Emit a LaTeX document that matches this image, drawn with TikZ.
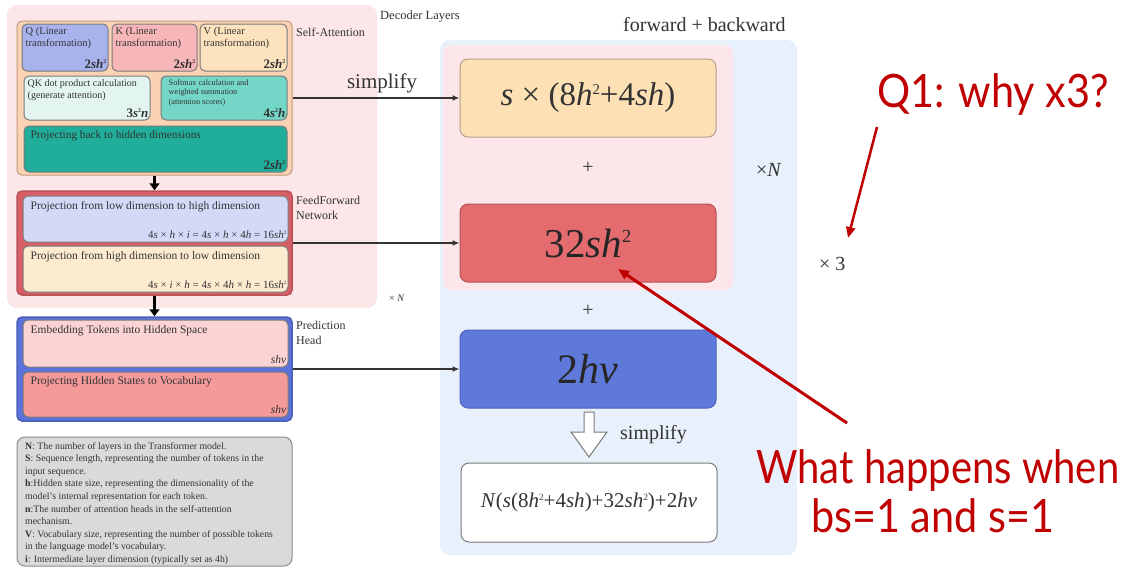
\documentclass[tikz,border=0pt]{standalone}
\usepackage{fontspec}
\usepackage{graphicx}
\setmainfont{Liberation Serif}
\newfontfamily\annot[FakeStretch=0.9]{Lato}
\newfontfamily\annotn[FakeStretch=0.87]{Lato}
\newcommand\sq{\raisebox{0.36em}{\scalebox{0.45}{2}}}
\usetikzlibrary{arrows.meta,calc}
\definecolor{txt}{HTML}{333333}
\definecolor{decpink}{HTML}{FCE6E7}
\definecolor{safill}{HTML}{FAD3B4}
\definecolor{sadraw}{HTML}{C59A7A}
\definecolor{qfill}{HTML}{A8B3EE}
\definecolor{kfill}{HTML}{F7B7B8}
\definecolor{vfill}{HTML}{FDE2BE}
\definecolor{qkfill}{HTML}{E2F5F1}
\definecolor{smfill}{HTML}{73D6C6}
\definecolor{pjfill}{HTML}{20AE9B}
\definecolor{ffnfill}{HTML}{D95F67}
\definecolor{lavfill}{HTML}{D3DAF8}
\definecolor{creamfill}{HTML}{FDEBD0}
\definecolor{phfill}{HTML}{5A72D9}
\definecolor{pkfill}{HTML}{FBD3D3}
\definecolor{rdfill}{HTML}{F59A9B}
\definecolor{lgfill}{HTML}{DADADA}
\definecolor{lgdraw}{HTML}{8C8C8C}
\definecolor{rblue}{HTML}{E8F0FB}
\definecolor{rpink}{HTML}{FCE6E9}
\definecolor{bonefill}{HTML}{FDE1B5}
\definecolor{bonedraw}{HTML}{B3A088}
\definecolor{btwofill}{HTML}{E46B6E}
\definecolor{btwodraw}{HTML}{B35458}
\definecolor{bthreefill}{HTML}{5F79DA}
\definecolor{bthreedraw}{HTML}{4D63BE}
\definecolor{annred}{HTML}{C00000}
\definecolor{boxgrey}{HTML}{7A7A7A}
\begin{document}
\begin{tikzpicture}[x=1pt,y=-1pt,
  every node/.style={text=txt},
  cbox/.style args={#1/#2}{fill=#1, draw=#2, rounded corners=5pt, line width=1pt, inner sep=0pt},
  lbl/.style={anchor=north west, align=left, inner sep=0pt},
  frm/.style={anchor=south east, inner sep=0pt},
  side/.style={anchor=north west, align=left, inner sep=0pt, font=\fontsize{12}{15}\selectfont},
  conn/.style={draw=txt, line width=1.6pt, -{Latex[length=7pt,width=6pt]}},
  down/.style={draw=black, line width=2.6pt, -{Triangle[length=7pt,width=10pt]}},
  redarr/.style={draw=annred, line width=3pt, -{Triangle[length=11pt,width=9pt]}},
  big/.style={font=\fontsize{#1}{#1}\selectfont}
]
\useasboundingbox (0,0) rectangle (1121,571);
\fill[white] (0,0) rectangle (1121,571);

% ---------- left: decoder layers ----------
\node[fill=decpink, rounded corners=10pt, minimum width=370pt, minimum height=303pt, inner sep=0pt] (dec) at (192,156.5) {};
\node[anchor=west, inner sep=0pt, font=\fontsize{12.5}{12}\selectfont] (declbl) at (380,17) {Decoder Layers};

\node[cbox=safill/sadraw, minimum width=275pt, minimum height=154pt] (sa) at (154.5,98) {};
\node[anchor=west, inner sep=0pt, font=\fontsize{12}{12}\selectfont] (salbl) at (296,32) {Self-Attention};

\node[cbox=qfill/boxgrey, minimum width=86pt, minimum height=47pt] (q) at (65,47.5) {};
\node[cbox=kfill/boxgrey, minimum width=85pt, minimum height=47pt] (k) at (154.5,47.5) {};
\node[cbox=vfill/boxgrey, minimum width=87pt, minimum height=47pt] (v) at (243.5,47.5) {};
\foreach \b/\l in {q/Q, k/K, v/V}{
  \node[lbl, font=\fontsize{10.5}{11.5}\selectfont] (\b t) at ($(\b.north west)+(4,4)$) {\l\ (Linear\\transformation)};
  \node[frm, font=\fontsize{13}{13}\selectfont\bfseries] (\b f) at ($(\b.south east)+(-2,-3)$) {2\textit{sh}\sq};
}

\node[cbox=qkfill/boxgrey, minimum width=126pt, minimum height=44pt] (qk) at (87,98) {};
\node[lbl, font=\fontsize{10}{12}\selectfont] (qkt) at ($(qk.north west)+(4,4)$) {QK dot product calculation\\(generate attention)};
\node[frm, font=\fontsize{13}{13}\selectfont\bfseries] (qkf) at ($(qk.south east)+(-2,-3)$) {3\textit{s}\sq\textit{n}};

\node[cbox=smfill/boxgrey, minimum width=126pt, minimum height=44pt] (sm) at (224,98) {};
\node[lbl, font=\fontsize{8.2}{9.3}\selectfont] (smt) at ($(sm.north west)+(8,4)$) {Softmax calculation and\\weighted summation\\(attention scores)};
\node[frm, font=\fontsize{13}{13}\selectfont\bfseries] (smf) at ($(sm.south east)+(-2,-3)$) {4\textit{s}\sq\textit{h}};

\node[cbox=pjfill/boxgrey, minimum width=263pt, minimum height=46pt] (pj) at (155.5,149) {};
\node[lbl, font=\fontsize{11.3}{12}\selectfont] (pjt) at ($(pj.north west)+(7,5)$) {Projecting back to hidden dimensions};
\node[frm, font=\fontsize{13}{13}\selectfont\bfseries] (pjf) at ($(pj.south east)+(-2,-3)$) {2\textit{sh}\sq};

% FFN
\node[cbox=ffnfill/ffnfill!85!black, line width=1.5pt, minimum width=275pt, minimum height=104pt] (ffn) at (154.5,243) {};
\node[side] (ffnlbl) at (296,196) {FeedForward\\Network};
\node[cbox=lavfill/boxgrey, minimum width=265pt, minimum height=46pt] (fa) at (155.5,219) {};
\node[lbl, font=\fontsize{11.5}{12}\selectfont] (fat) at ($(fa.north west)+(8,6)$) {Projection from low dimension to high dimension};
\node[frm, font=\fontsize{11}{11}\selectfont] (faf) at ($(fa.south east)+(-2,-4)$) {4\textit{s} × \textit{h} × \textit{i} = 4\textit{s} × \textit{h} × 4\textit{h} = 16\textit{sh}\sq};
\node[cbox=creamfill/boxgrey, minimum width=265pt, minimum height=46pt] (fb) at (155.5,269) {};
\node[lbl, font=\fontsize{11.5}{12}\selectfont] (fbt) at ($(fb.north west)+(8,6)$) {Projection from high dimension to low dimension};
\node[frm, font=\fontsize{11}{11}\selectfont] (fbf) at ($(fb.south east)+(-2,-4)$) {4\textit{s} × \textit{i} × \textit{h} = 4\textit{s} × 4\textit{h} × \textit{h} = 16\textit{sh}\sq};
\node[anchor=west, inner sep=0pt, font=\fontsize{10}{10}\selectfont] (xnl) at (389,298) {× \textit{N}};

% Prediction head
\node[cbox=phfill/phfill!85!black, line width=1.5pt, minimum width=275pt, minimum height=104pt] (ph) at (154.5,369) {};
\node[side] (phlbl) at (296,321) {Prediction\\Head};
\node[cbox=pkfill/boxgrey, minimum width=265pt, minimum height=47pt] (pa) at (155.5,343.5) {};
\node[lbl, font=\fontsize{11.5}{12}\selectfont] (pat) at ($(pa.north west)+(8,6)$) {Embedding Tokens into Hidden Space};
\node[frm, font=\fontsize{11.5}{11.5}\selectfont] (paf) at ($(pa.south east)+(-2,-4)$) {\textit{shv}};
\node[cbox=rdfill/boxgrey, minimum width=265pt, minimum height=45pt] (pb) at (155.5,394.5) {};
\node[lbl, font=\fontsize{11.5}{12}\selectfont] (pbt) at ($(pb.north west)+(8,5)$) {Projecting Hidden States to Vocabulary};
\node[frm, font=\fontsize{11.5}{11.5}\selectfont] (pbf) at ($(pb.south east)+(-2,-4)$) {\textit{shv}};

\draw[down] (sa.south) -- (ffn.north);
\draw[down] (ffn.south) -- (ph.north);

% legend
\node[cbox=lgfill/lgdraw, rounded corners=8pt, minimum width=275pt, minimum height=129pt] (lg) at (154.5,501.5) {};
\node[lbl, font=\fontsize{9.8}{12.6}\selectfont] (lgt) at (25,442) {%
\textbf{N}: The number of layers in the Transformer model.\\
\textbf{S}: Sequence length, representing the number of tokens in the\\
input sequence.\\
\textbf{h}:Hidden state size, representing the dimensionality of the\\
model's internal representation for each token.\\
\textbf{n}:The number of attention heads in the self-attention\\
mechanism.\\
\textbf{V}: Vocabulary size, representing the number of possible tokens\\
in the language model's vocabulary.\\
\textbf{i}: Intermediate layer dimension (typically set as 4h)};

% ---------- right panel ----------
\node[fill=rblue, rounded corners=10pt, minimum width=357pt, minimum height=515pt, inner sep=0pt] (bl) at (618.5,297.5) {};
\node[fill=rpink, rounded corners=8pt, minimum width=290pt, minimum height=245pt, inner sep=0pt] (pk) at (588,167.5) {};
\node[anchor=west, inner sep=0pt, big=20] (fblbl) at (623,25) {forward + backward};

\node[cbox=bonefill/bonedraw, rounded corners=8pt, minimum width=256pt, minimum height=78pt] (b1) at (588,98) {};
\node[big=33] (b1t) at (b1.center) {\textit{s} × (8\textit{h}\sq+4\textit{sh})};
\node[big=20] (plus1) at (588,168) {+};
\node[anchor=west, inner sep=0pt, big=20] (xN) at (756,170) {×\textit{N}};
\node[cbox=btwofill/btwodraw, rounded corners=8pt, minimum width=256pt, minimum height=78pt] (b2) at (588,243) {};
\node[big=41, text=black!85] (b2t) at (b2.center) {32\textit{sh}\sq};
\node[big=20] (plus2) at (588,311) {+};
\node[cbox=bthreefill/bthreedraw, rounded corners=8pt, minimum width=256pt, minimum height=78pt] (b3) at (588,369) {};
\node[big=42, text=black!85] (b3t) at (b3.center) {2\textit{hv}};
\node[cbox=white/boxgrey, rounded corners=8pt, minimum width=256pt, minimum height=79pt] (b4) at (589,502.5) {};
\node[big=21] (b4t) at (b4.center) {\textit{N}(\textit{s}(8\textit{h}\sq+4\textit{sh})+32\textit{sh}\sq)+2\textit{hv}};

\draw[draw=boxgrey, fill=white, line width=1pt, line join=miter]
  (584,412) -- (594,412) -- (594,432) -- (607,432) -- (589,457) -- (571,432) -- (584,432) -- cycle;
\node[anchor=west, inner sep=0pt, big=20] (simp2) at (620,435) {simplify};

% connectors
\draw[conn] (sa.east) -- (b1.west);
\node[big=21] (simp1) at (382,83) {simplify};
\draw[conn] (ffn.east) -- (b2.west);
\draw[conn] (ph.east) -- (b3.west);

% ---------- annotations ----------
\node[anchor=base west, inner sep=0pt, text=annred, font=\annot\fontsize{46}{46}\selectfont] (q1) at (877,107) {Q1: why x3?};
\node[anchor=west, inner sep=0pt, font=\fontsize{20}{20}\selectfont] (x3) at (819,264) {× 3};
\coordinate (q1tail) at (877,127);
\coordinate (q1tip) at (848,238);
\draw[redarr, line width=2.5pt] (q1tail) -- (q1tip);

\node[anchor=base west, inner sep=0pt, text=annred, font=\annotn\fontsize{46}{46}\selectfont] (wh) at (756,483) {What happens when};
\node[anchor=base west, inner sep=0pt, text=annred, font=\annot\fontsize{46}{46}\selectfont] (bs) at (811,532) {bs=1 and s=1};
\coordinate (rtail) at (847,423);
\coordinate (rtip) at (618,269);
\draw[redarr] (rtail) -- (rtip);
\end{tikzpicture}
\end{document}
